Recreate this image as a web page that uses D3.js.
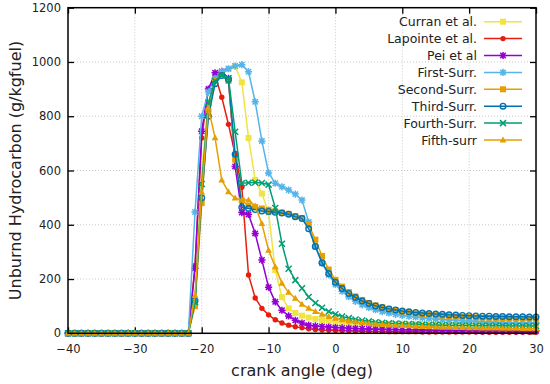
<!DOCTYPE html>
<html><head><meta charset="utf-8">
<script src="https://cdn.jsdelivr.net/npm/d3@7"></script>
<style>body{margin:0;background:#fff} svg{display:block}</style>
</head><body><svg id="c" width="550" height="384"></svg>
<script>
const angles = [-40,-39,-38,-37,-36,-35,-34,-33,-32,-31,-30,-29,-28,-27,-26,-25,-24,-23,-22,
  -21,-20,-19,-18,-17,-16,-15,-14,-13,-12,-11,-10,-9,-8,-7,-6,-5,-4,-3,-2,-1,
  0,1,2,3,4,5,6,7,8,9,10,11,12,13,14,15,16,17,18,19,20,21,22,23,24,25,26,27,28,29,30];

const curran = [0,0,0,0,0,0,0,0,0,0,0,0,0,0,0,0,0,0,0,
  120,600,850,930,960,975,985,925,720,565,515,445,233,133,92,75,65,58,53,49,46,
  43,41,40,39,38,37,36,35,35,34,34,33,33,33,32,32,32,31,31,31,31,30,30,30,30,30,29,29,29,29,29];
const lapointe = [0,0,0,0,0,0,0,0,0,0,0,0,0,0,0,0,0,0,0,
  250,720,900,950,870,770,660,538,215,130,92,68,50,38,30,24,20,17,14,12,11,
  10,9,9,8,8,7,7,7,6,6,6,6,6,5,5,5,5,5,5,5,5,5,4,4,4,4,4,4,4,4,4];
const pei = [0,0,0,0,0,0,0,0,0,0,0,0,0,0,0,0,0,0,0,
  240,745,900,960,965,940,615,445,438,368,270,170,116,85,64,48,38,30,27,25,23,
  21,20,19,18,17,16,15,15,14,14,13,13,13,12,12,12,11,11,11,11,11,10,10,10,10,10,10,9,9,9,9];
const firstSurr = [0,0,0,0,0,0,0,0,0,0,0,0,0,0,0,0,0,0,0,
  447,800,890,940,965,975,985,990,964,853,709,591,553,540,528,513,491,410,320,258,215,
  180,155,135,118,105,95,87,80,75,70,66,63,60,57,55,53,51,49,48,46,45,44,43,42,41,40,40,39,39,38,38];
const secondSurr = [0,0,0,0,0,0,0,0,0,0,0,0,0,0,0,0,0,0,0,
  100,480,820,930,955,930,640,490,470,465,460,455,450,445,440,432,425,400,345,285,235,
  197,172,152,136,123,112,103,96,90,85,80,77,74,71,69,67,65,63,62,61,60,59,58,57,57,56,56,55,55,55,54];
const thirdSurr = [0,0,0,0,0,0,0,0,0,0,0,0,0,0,0,0,0,0,0,
  120,500,800,920,950,935,660,465,460,456,451,449,446,443,439,430,423,385,320,260,220,
  188,165,147,132,119,110,101,95,90,86,82,79,77,75,73,71,70,68,67,66,65,64,63,63,62,62,61,61,61,60,60];
const fourthSurr = [0,0,0,0,0,0,0,0,0,0,0,0,0,0,0,0,0,0,0,
  115,550,850,930,950,940,743,553,555,556,554,548,462,330,238,196,166,134,112,94,80,
  70,62,56,51,47,44,41,39,37,36,35,34,33,32,31,31,30,30,29,29,29,28,28,28,28,28,27,27,27,27,27];
const fifthSurr = [0,0,0,0,0,0,0,0,0,0,0,0,0,0,0,0,0,0,0,
  140,520,830,720,565,521,498,491,491,469,404,306,245,184,151,129,107,92,80,70,62,
  55,50,45,42,39,36,34,32,30,29,28,27,26,25,24,23,22,22,21,21,20,20,19,19,19,18,18,18,17,17,17];

const seriesNames = ["Curran et al.","Lapointe et al.","Pei et al","First-Surr.","Second-Surr.","Third-Surr.","Fourth-Surr.","Fifth-surr"];
const seriesValues = [curran, lapointe, pei, firstSurr, secondSurr, thirdSurr, fourthSurr, fifthSurr];
const seriesColors = ["#F0E442","#E51E10","#9400D3","#56B4E9","#E69F00","#0072B2","#009E73","#E69F00"];
const seriesMarkers = ["square","circle","star","star","square","ocircle","cross","triangle"];
const xTicks = [-40,-30,-20,-10,0,10,20,30];
const yTicks = [0,200,400,600,800,1000,1200];

const svg = d3.select("#c");
const FONT = "'DejaVu Sans', Verdana, sans-serif";
const x = d3.scaleLinear().domain([-40,30]).range([68,536]);
const y = d3.scaleLinear().domain([0,1200]).range([333.3,7.7]);
const x0 = x.range()[0], x1 = x.range()[1], y0 = y.range()[0], y1 = y.range()[1];

// grid
const grid = svg.append("g").attr("stroke","#c8c8c8").attr("stroke-width",1).attr("stroke-dasharray","1,2");
xTicks.slice(1,-1).forEach(t => grid.append("line").attr("x1",x(t)).attr("x2",x(t)).attr("y1",y0).attr("y2",y1));
yTicks.slice(1,-1).forEach(t => grid.append("line").attr("x1",x0).attr("x2",x1).attr("y1",y(t)).attr("y2",y(t)));

// axes with mirrored inward ticks
const fmt = d3.format("d");
const axB = svg.append("g").attr("transform",`translate(0,${y0})`).call(d3.axisBottom(x).tickValues(xTicks).tickSizeInner(-6).tickSizeOuter(0).tickPadding(12).tickFormat(fmt));
const axT = svg.append("g").attr("transform",`translate(0,${y1})`).call(d3.axisTop(x).tickValues(xTicks).tickSizeInner(-6).tickSizeOuter(0).tickFormat(""));
const axL = svg.append("g").attr("transform",`translate(${x0},0)`).call(d3.axisLeft(y).tickValues(yTicks).tickSizeInner(-6).tickSizeOuter(0).tickPadding(7).tickFormat(fmt));
const axR = svg.append("g").attr("transform",`translate(${x1},0)`).call(d3.axisRight(y).tickValues(yTicks).tickSizeInner(-6).tickSizeOuter(0).tickFormat(""));
[axB,axT,axL,axR].forEach(a => {
  a.select(".domain").remove();
  a.selectAll(".tick line").attr("stroke","#000").attr("stroke-width",1.3);
  a.selectAll(".tick text").attr("font-family",FONT).attr("font-size","11.5px").attr("fill","#222");
});

// series
const line = d3.line().x((d,i)=>x(angles[i])).y(d=>y(d));
function drawMarker(g, type, color, cx, cy){
  const t = `translate(${cx},${cy})`;
  if(type==="square") g.append("rect").attr("x",cx-3).attr("y",cy-3).attr("width",6).attr("height",6).attr("fill",color);
  else if(type==="circle") g.append("circle").attr("cx",cx).attr("cy",cy).attr("r",2.7).attr("fill",color);
  else if(type==="ocircle") g.append("circle").attr("cx",cx).attr("cy",cy).attr("r",2.8).attr("fill","none").attr("stroke",color).attr("stroke-width",1.4);
  else if(type==="star") g.append("path").attr("transform",t).attr("d","M-3.6,0H3.6M0,-3.6V3.6M-2.7,-2.7L2.7,2.7M-2.7,2.7L2.7,-2.7").attr("stroke",color).attr("stroke-width",1.5).attr("fill","none");
  else if(type==="cross") g.append("path").attr("transform",t).attr("d","M-3,-3L3,3M-3,3L3,-3").attr("stroke",color).attr("stroke-width",1.5).attr("fill","none");
  else if(type==="triangle") g.append("path").attr("transform",t).attr("d","M0,-3.6L3.4,2.4L-3.4,2.4Z").attr("fill",color);
}
seriesValues.forEach((vals,k)=>{
  const g = svg.append("g");
  g.append("path").attr("d",line(vals)).attr("fill","none").attr("stroke",seriesColors[k]).attr("stroke-width",1.5);
  vals.forEach((v,i)=>drawMarker(g, seriesMarkers[k], seriesColors[k], x(angles[i]), y(v)));
});

// frame
svg.append("rect").attr("x",x0).attr("y",y1).attr("width",x1-x0).attr("height",y0-y1)
  .attr("fill","none").attr("stroke","#000").attr("stroke-width",1.5);

// legend
seriesNames.forEach((name,k)=>{
  const ly = 21.7 + k*16.9;
  svg.append("text").attr("x",477).attr("y",ly+4.5).attr("text-anchor","end")
    .attr("font-family",FONT).attr("font-size","12.5px").attr("fill","#222").text(name);
  const g = svg.append("g");
  g.append("line").attr("x1",484).attr("x2",522).attr("y1",ly).attr("y2",ly).attr("stroke",seriesColors[k]).attr("stroke-width",1.5);
  drawMarker(g, seriesMarkers[k], seriesColors[k], 503, ly);
});

// titles
svg.append("text").attr("x",(x0+x1)/2).attr("y",376).attr("text-anchor","middle")
  .attr("font-family",FONT).attr("font-size","16px").attr("fill","#222").text("crank angle (deg)");
svg.append("text").attr("transform",`translate(21,${(y0+y1)/2}) rotate(-90)`).attr("text-anchor","middle")
  .attr("font-family",FONT).attr("font-size","16px").attr("fill","#222").text("Unburnd Hydrocarbon (g/kgfuel)");
</script></body></html>
